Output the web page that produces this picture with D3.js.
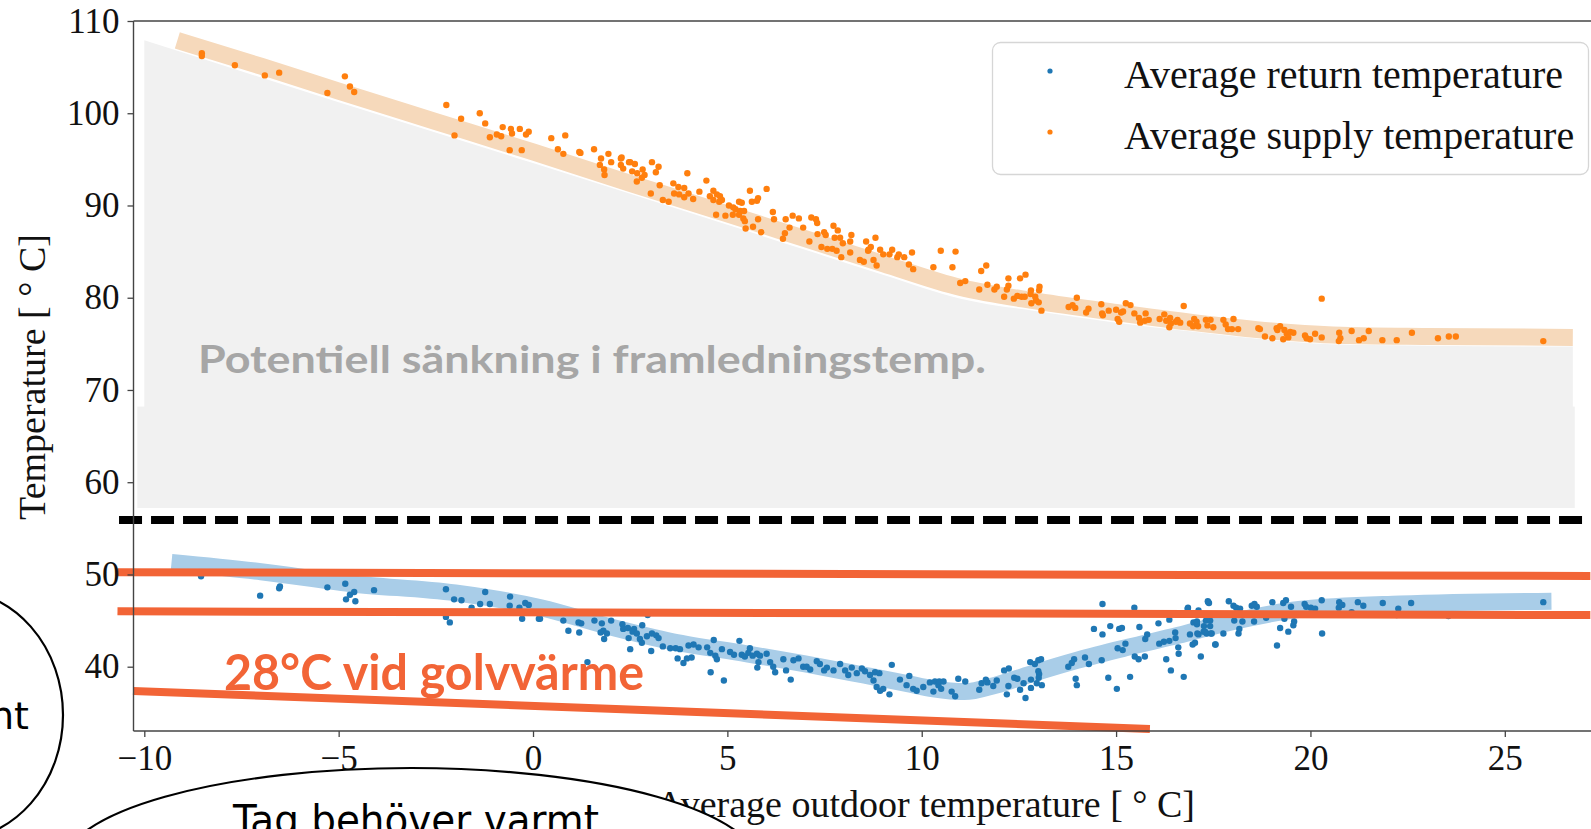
<!DOCTYPE html>
<html>
<head>
<meta charset="utf-8">
<script src="https://cdn.jsdelivr.net/npm/d3@7"></script>
<style>
  body { margin: 0; background: #fff; overflow: hidden; }
  svg { display: block; }
</style>
</head>
<body>
<script>
// x ticks and y ticks
const xTicks = [-10, -5, 0, 5, 10, 15, 20, 25];
const yTicks = [40, 50, 60, 70, 80, 90, 100, 110];

const legendLabels = ['Average return temperature', 'Average supply temperature'];

// fitted trend bands
const supplyFit = [[-9.15,107.9],[-7,105.1],[-5,102.4],[-2.5,99.1],[0,95.8],[2.5,92.4],[5,89.1],[7,86.4],[9,83.7],[11,81.1],[13,79.6],[15,78.4],[17,77.3],[19,76.4],[21,75.9],[23,75.8],[26.75,75.7]];
const returnFit = [[-9.3,51.3],[-7,50.3],[-4.7,49.0],[-2,48.0],[0.2,46.4],[2,44.3],[3.6,42.7],[5.5,41.4],[7,40.3],[8.5,39.1],[9.6,38.2],[10.3,37.6],[11.1,37.3],[11.9,38.0],[12.8,39.2],[14.0,40.7],[15.3,42.1],[16.6,43.4],[17.8,44.7],[19.7,46.2],[22.3,46.8],[26.2,47.1]];

// grey "potential" area, top edge and bottom
const greyTop = [[-10,107.9],[-5,101.2],[0,94.6],[5,87.9],[7,85.2],[9,82.5],[11,79.9],[13,78.5],[15,77.3],[17,76.3],[19,75.4],[21,74.9],[23,74.8],[26.75,74.7]];
const greyBottom = 57.2;
const greyStep = { x0: -10.18, x1: 26.8, y: 68.2 };

// dashed limit and the hand drawn orange lines
const dashedLimit = { x0: -10.65, x1: 27.0, y: 55.9 };
const orangeLines = [
  [[-10.69, 50.24], [27.2, 49.84]],
  [[-10.69, 46.0], [27.2, 45.6]],
  [[-10.29, 37.37], [15.87, 33.24]]
];

// scatter: average supply temperature
const supplyPts = [
[-8.52,106.5],[-8.52,106.2],[-7.67,105.2],[-6.90,104.1],[-6.53,104.4],[-5.29,102.2],[-4.84,104.0],[-4.71,102.9],[-4.60,102.3],
[-2.23,100.9],[-1.85,99.4],[-2.02,97.6],[-1.37,100.0],[-1.23,98.9],[-1.11,97.4],[-0.93,97.7],[-0.82,97.5],[-0.78,98.5],[-0.57,98.3],[-0.54,97.8],[-0.34,98.3],[-0.18,97.7],[-0.11,98.0],[-0.60,96.0],[-0.29,96.0],
[0.47,97.3],[0.83,97.6],[0.64,96.1],[0.78,95.6],[1.19,95.8],[1.22,95.7],[1.57,96.1],[1.75,95.1],[1.94,95.6],[1.72,94.4],[1.83,93.9],[1.84,93.3],[2.01,94.7],[2.26,95.1],[2.26,94.4],[2.32,94.0],[2.47,94.7],
[2.28,95.2],[2.50,94.7],[2.62,94.5],[2.55,93.7],[2.68,93.5],[2.82,93.9],[2.87,93.3],[2.80,93.0],[2.67,92.6],[3.06,94.7],[3.23,94.2],[3.16,93.6],[3.26,92.2],[3.03,91.3],[3.34,90.6],[3.49,90.4],[3.97,93.5],[3.61,92.4],[3.74,92.0],[3.89,91.9],[3.63,91.3],[3.76,91.2],[3.89,90.9],[4.0,91.3],[4.12,90.7],[4.28,91.5],[4.46,92.7],[4.64,91.6],[4.73,91.2],[4.55,91.0],[4.64,90.6],[4.81,91.0],[4.86,90.6],[4.79,90.4],[4.71,89.0],[4.95,88.9],[5.14,89.0],[5.04,90.0],[5.15,89.8],[5.21,89.6],[5.30,90.4],[5.37,90.3],[5.33,89.4],[5.43,89.4],[5.30,89.0],[5.41,88.6],[5.45,88.3],[5.58,91.6],[5.63,90.4],[5.76,90.5],[5.79,90.8],[6.01,91.8],[5.79,88.5],[5.66,87.7],[5.47,87.5],[5.87,87.1],[6.17,89.3],[6.20,88.5],[6.50,88.5],[6.68,88.9],[6.84,88.6],[6.60,87.6],[6.48,87.0],[6.43,86.4],[6.95,87.6],[7.16,88.7],[7.28,88.5],[7.31,88.1],[7.11,86.1],[7.42,85.5],[7.57,85.3],[7.70,85.3],[7.81,85.1],[7.93,84.4],[7.49,87.1],[7.53,86.8],[7.32,86.9],[7.73,87.8],[7.84,87.3],[7.76,86.5],[7.90,86.5],[7.97,85.9],[8.16,86.1],[8.19,86.8],[8.16,84.9],[8.57,86.1],[8.81,86.5],[8.63,85.2],[8.69,85.5],[8.62,85.1],[8.41,84.1],[8.51,83.9],[8.76,84.1],[8.84,83.5],[8.93,85.2],[9.01,84.7],[9.17,84.7],[9.24,85.2],[9.37,84.4],[9.41,84.7],[9.55,84.4],[9.75,84.9],[9.67,83.6],[9.78,83.1],[10.49,85.1],[10.87,85.0],[10.30,83.3],[10.79,83.3],
[11.12,81.8],[10.99,81.6],[11.53,82.9],[11.66,83.5],[11.69,81.4],[11.48,80.9],[11.87,80.9],[11.93,81.2],[12.12,80.1],[12.19,80.9],[12.23,81.3],[12.23,82.1],[12.53,82.1],[12.67,82.5],[12.37,79.9],[12.46,80.2],[12.57,80.1],[12.65,80.1],[12.81,80.8],[12.80,80.4],[12.92,80.1],[13.03,81.2],[13.02,80.8],[12.94,79.7],[13.01,79.5],[12.82,79.4],[13.08,78.6],[13.99,80.0],[13.78,79.0],[13.88,79.2],[13.95,78.9],[14.23,78.4],[14.29,78.8],[14.62,79.3],[14.64,78.3],[14.66,78.1],[14.81,78.6],[15.0,78.7],[15.13,78.4],[15.18,78.5],[15.25,79.4],[15.37,79.2],[15.04,77.7],[15.08,77.4],[15.47,78.3],[15.59,77.8],[15.76,78.3],[15.62,77.3],[15.74,77.5],[15.84,77.6],[16.74,79.1],[16.12,77.7],[16.24,78.2],[16.29,77.5],[16.39,77.8],[16.41,77.2],[16.54,77.4],[16.58,77.6],[16.65,77.3],[16.37,76.8],[16.90,77.2],[17.01,77.7],[17.07,77.4],[16.98,76.9],[17.11,76.9],[17.31,77.6],[17.43,77.6],[17.35,77.0],[17.50,76.8],[17.76,77.6],[17.82,77.1],[18.02,77.7],[17.88,76.6],[17.98,76.6],[18.14,76.6],[18.66,76.7],[19.13,76.7],
[20.29,79.9],[18.70,76.6],[18.83,75.8],[19.02,75.6],[19.15,76.5],[19.22,76.9],[19.33,76.5],[19.39,76.1],[19.48,76.3],[19.56,76.2],[19.43,75.7],[19.30,75.5],[19.86,75.9],[19.90,75.6],[19.99,75.5],[20.12,76.1],[20.29,75.7],[20.74,76.2],[20.77,75.6],[20.73,75.3],[21.06,76.4],[21.25,75.4],[21.37,75.6],[21.50,76.4],[21.85,75.4],[22.22,75.4],[22.61,76.2],[23.28,75.6],[23.56,75.8],[23.74,75.8],[25.99,75.3]
];

// scatter: average return temperature
const returnPts = [
[-8.54,49.8],[-8.54,50.2],[-7.02,47.7],[-6.53,48.5],[-6.51,48.7],[-5.29,48.6],[-4.83,49.0],[-4.81,47.3],[-4.71,47.8],[-4.60,48.1],[-4.57,47.1],[-4.09,48.3],
[-2.24,48.4],[-2.03,47.3],[-1.84,47.2],[-2.24,45.4],[-2.14,44.8],[-1.58,46.4],[-1.36,46.8],[-1.23,48.1],[-1.11,46.8],[-0.59,47.6],[-0.60,46.6],[-0.35,46.4],[-0.28,45.2],[-0.20,46.9],[-0.11,46.7],[0.15,45.2],
[0.18,45.2],[0.78,45.0],[0.91,43.9],[1.19,43.7],[1.17,44.8],[1.24,44.7],[1.58,45.0],[1.77,44.7],[2.01,45.0],[1.81,43.9],[1.74,43.7],[1.90,43.6],[1.83,43.0],
[2.30,44.6],[2.32,44.1],[2.44,44.2],[2.60,44.1],[2.56,43.8],[2.67,43.6],[2.46,43.1],[2.75,43.0],[2.80,42.6],[2.93,43.3],[3.06,43.6],[3.17,43.4],[3.23,43.1],[2.81,44.5],[2.95,45.6],
[2.50,41.9],[3.04,41.7],[1.40,40.5],[3.34,42.2],[3.53,42.0],[3.67,42.0],[3.78,41.9],[3.72,40.9],[3.87,40.4],[3.96,40.9],[4.08,41.0],[4.00,42.3],[4.13,42.4],[4.26,42.1],[4.48,42.1],[4.56,41.5],[4.65,42.9],[4.69,41.2],[4.73,40.8],[4.86,41.9],[4.91,38.5],[4.57,39.4],
[5.07,41.6],[5.17,41.3],[5.31,42.8],[5.37,41.3],[5.45,41.1],[5.54,41.5],[5.58,42.0],[5.65,41.2],[5.76,41.4],[5.84,41.2],[5.80,40.5],[5.77,39.9],[6.01,41.4],[6.10,40.5],[6.18,40.0],[6.23,39.4],[6.44,40.8],[6.51,39.6],[6.63,38.6],[6.70,40.7],[6.83,40.9],[6.95,40.0],[7.04,40.0],[7.13,39.7],[7.30,40.6],[7.38,40.3],[7.49,39.6],[7.56,39.9],[7.73,39.6],[7.90,40.3],[8.03,39.6],[8.11,39.1],[8.20,39.9],[8.33,39.3],[8.46,39.8],[8.54,39.5],[8.67,39.1],[8.80,39.4],[8.91,39.3],[8.76,38.5],[8.84,37.8],[8.93,37.4],[9.01,37.6],[9.17,37.0],[9.23,40.2],[9.44,38.6],[9.61,38.0],[9.68,39.0],[9.78,37.6],[9.87,37.4],[10.04,37.8],[10.21,38.3],[10.34,38.4],[10.43,38.0],
[10.30,37.3],[10.45,38.4],[10.56,38.4],[10.50,37.6],[10.77,37.3],[10.86,36.8],[10.94,38.7],[11.12,38.4],[11.48,37.5],[11.54,38.2],[11.65,38.6],[11.69,38.3],[11.84,37.9],[11.93,38.5],[12.12,39.6],[12.24,39.8],[12.19,37.0],[12.23,37.9],[12.38,38.8],[12.46,38.7],[12.53,37.5],[12.62,38.2],[12.67,36.6],[12.81,38.6],[12.81,37.7],[12.79,40.5],[12.91,40.3],[13.0,40.7],[13.07,40.8],[13.00,39.5],[13.02,39.2],[13.01,38.8],[13.09,38.0],[12.96,38.2],
[13.77,40.0],[13.86,40.4],[13.92,40.8],[13.96,38.7],[13.99,38.0],[14.20,41.0],[14.30,40.3],[14.43,44.1],[14.65,43.5],[14.63,40.7],[14.65,46.8],[14.85,44.4],[14.80,38.8],[15.02,37.6],[15.08,44.1],[15.15,44.2],[15.04,42.0],[15.17,41.8],[15.24,42.5],[15.36,38.9],[15.47,46.4],[15.48,41.1],[15.58,40.8],[15.60,44.3],[15.74,41.1],[15.75,43.0],[15.80,43.5],[16.09,44.7],[16.11,42.5],[16.23,42.7],[16.29,40.8],[16.37,42.8],[16.37,45.1],[16.41,39.6],[16.52,43.7],[16.53,43.1],[16.60,42.1],[16.61,41.4],[16.74,38.9],[16.85,46.4],[16.90,43.5],[16.97,42.4],[16.99,44.8],[17.03,42.6],[17.08,44.6],[17.12,43.5],[17.18,41.1],[17.25,43.8],[17.26,44.4],[17.31,45.0],[17.33,43.6],[17.37,47.0],[17.42,44.4],[17.44,43.6],[17.56,42.4],[17.76,43.6],
[16.84,46.3],[17.08,44.9],[17.09,43.6],[17.12,46.1],[17.29,43.8],[17.36,47.1],[17.39,46.9],[17.42,45.0],[17.46,43.6],[17.55,42.4],[17.90,47.1],[18.02,46.6],[18.04,45.0],[18.09,46.4],[18.19,46.3],[18.15,43.6],[18.17,44.1],[18.25,44.9],[18.49,46.6],[18.55,44.9],[18.56,46.8],[18.62,46.5],[18.86,45.3],[19.02,47.0],[19.14,42.3],[19.22,44.2],[19.30,46.9],[19.33,45.2],[19.37,47.2],[19.43,43.8],[19.50,46.5],[19.56,44.5],[19.58,44.9],[19.85,46.8],[19.89,46.5],[20.01,46.4],[20.12,46.3],[20.29,47.2],[20.30,43.6],[20.73,46.4],[20.74,47.0],[20.82,46.7],[21.06,45.9],[21.22,47.0],[21.36,46.6],[21.86,46.9],[22.26,46.3],[22.59,46.9],[22.22,45.6],[23.55,45.5],[25.99,47.0]
];

const W = 1591, H = 829;
const axisLeftX = 133.5, axisTopY = 21, axisBottomY = 731;
const serif = '"Liberation Serif", "DejaVu Serif", serif';
const blue = '#1f77b4', orange = '#ff7f0e', annot = '#f26436';

const xScale = d3.scaleLinear().domain([-10, 25]).range([144.3, 1504.8]);
const yScale = d3.scaleLinear().domain([40, 110]).range([666.7, 21]);

const svg = d3.select('body').append('svg')
    .attr('width', W)
    .attr('height', H);

// grey area
svg.append('rect')
    .attr('x', xScale(greyStep.x0))
    .attr('y', yScale(greyStep.y))
    .attr('width', xScale(greyStep.x1) - xScale(greyStep.x0))
    .attr('height', yScale(greyBottom) - yScale(greyStep.y))
    .attr('fill', '#f1f1f1');
svg.append('path')
    .datum(greyTop)
    .attr('d', d3.area()
        .x(d => xScale(d[0]))
        .y0(yScale(greyBottom))
        .y1(d => yScale(d[1]))
        .curve(d3.curveMonotoneX))
    .attr('fill', '#f1f1f1');

svg.append('text')
    .attr('x', 198).attr('y', 373)
    .attr('textLength', 788).attr('lengthAdjust', 'spacingAndGlyphs')
    .style('font-family', 'Lato, "Open Sans", sans-serif')
    .style('font-weight', '700')
    .style('font-size', '38px')
    .style('fill', '#a6a6a6')
    .text('Potentiell sänkning i framledningstemp.');

// trend bands
const bandLine = d3.line().x(d => xScale(d[0])).y(d => yScale(d[1])).curve(d3.curveMonotoneX);
svg.append('path').datum(supplyFit)
    .attr('d', bandLine).attr('fill', 'none')
    .attr('stroke', '#f6d9bb').attr('stroke-width', 17);
svg.append('path').datum(returnFit)
    .attr('d', bandLine).attr('fill', 'none')
    .attr('stroke', '#a9cde8').attr('stroke-width', 17);

// scatter
svg.append('g').selectAll('circle')
    .data(supplyPts).enter().append('circle')
    .attr('cx', d => xScale(d[0])).attr('cy', d => yScale(d[1]))
    .attr('r', 3.2).attr('fill', orange);
svg.append('g').selectAll('circle')
    .data(returnPts).enter().append('circle')
    .attr('cx', d => xScale(d[0])).attr('cy', d => yScale(d[1]))
    .attr('r', 3.2).attr('fill', blue);

// dashed line
svg.append('line')
    .attr('x1', xScale(dashedLimit.x0)).attr('x2', xScale(dashedLimit.x1))
    .attr('y1', yScale(dashedLimit.y)).attr('y2', yScale(dashedLimit.y))
    .attr('stroke', '#000').attr('stroke-width', 8)
    .attr('stroke-dasharray', '23,9');

// orange lines
svg.append('g').selectAll('line')
    .data(orangeLines).enter().append('line')
    .attr('x1', d => xScale(d[0][0])).attr('y1', d => yScale(d[0][1]))
    .attr('x2', d => xScale(d[1][0])).attr('y2', d => yScale(d[1][1]))
    .attr('stroke', annot).attr('stroke-width', 8);

svg.append('text')
    .attr('x', 224).attr('y', 690)
    .attr('textLength', 420).attr('lengthAdjust', 'spacingAndGlyphs')
    .style('font-family', 'Lato, "Open Sans", sans-serif')
    .style('font-weight', '700')
    .style('font-size', '50px')
    .style('fill', annot)
    .text('28°C vid golvvärme');

// spines
svg.append('line').attr('x1', axisLeftX).attr('x2', axisLeftX).attr('y1', axisTopY).attr('y2', axisBottomY)
    .attr('stroke', '#444').attr('stroke-width', 1.4);
svg.append('line').attr('x1', axisLeftX).attr('x2', W).attr('y1', axisTopY).attr('y2', axisTopY)
    .attr('stroke', '#444').attr('stroke-width', 1.4);
svg.append('line').attr('x1', axisLeftX).attr('x2', W).attr('y1', axisBottomY).attr('y2', axisBottomY)
    .attr('stroke', '#444').attr('stroke-width', 1.4);

// axes
const yAxis = svg.append('g')
    .attr('transform', `translate(${axisLeftX},0)`)
    .call(d3.axisLeft(yScale).tickValues(yTicks).tickSize(6).tickPadding(8));
const xAxis = svg.append('g')
    .attr('transform', `translate(0,${axisBottomY})`)
    .call(d3.axisBottom(xScale).tickValues(xTicks).tickSize(6).tickPadding(8)
        .tickFormat(d => String(d).replace('-', '\u2212')));
[yAxis, xAxis].forEach(g => {
    g.select('.domain').remove();
    g.selectAll('line').attr('stroke', '#444').attr('stroke-width', 1.3);
    g.selectAll('text')
        .style('font-family', serif)
        .style('font-size', '35px')
        .style('fill', '#111');
});

// axis labels
svg.append('text')
    .attr('transform', 'translate(45,377) rotate(-90)')
    .attr('text-anchor', 'middle')
    .style('font-family', serif).style('font-size', '38px').style('fill', '#111')
    .text('Temperature [ ° C]');
svg.append('text')
    .attr('x', 1195).attr('y', 817)
    .attr('text-anchor', 'end')
    .style('font-family', serif).style('font-size', '38px').style('fill', '#111')
    .text('Average outdoor temperature [ ° C]');

// legend
const legend = svg.append('g');
legend.append('rect')
    .attr('x', 992.5).attr('y', 42.5).attr('width', 596).attr('height', 132).attr('rx', 8)
    .attr('fill', 'white').attr('fill-opacity', 0.85)
    .attr('stroke', '#d6d6d6').attr('stroke-width', 1.3);
legend.selectAll('circle')
    .data(legendLabels).enter().append('circle')
    .attr('cx', 1050).attr('cy', (d, i) => 71 + i * 61)
    .attr('r', 2.6).attr('fill', (d, i) => i === 0 ? blue : orange);
legend.selectAll('text')
    .data(legendLabels).enter().append('text')
    .attr('x', 1124).attr('y', (d, i) => 88 + i * 61)
    .style('font-family', serif).style('font-size', '40px').style('fill', '#111')
    .text(d => d);

// slide bubbles on top
const hand = '"DejaVu Sans", sans-serif';
svg.append('ellipse')
    .attr('cx', -47).attr('cy', 715).attr('rx', 110).attr('ry', 125)
    .attr('fill', 'white').attr('stroke', '#000').attr('stroke-width', 2.2);
svg.append('text')
    .attr('x', 29).attr('y', 729).attr('text-anchor', 'end')
    .style('font-family', hand).style('font-size', '38px').style('fill', '#000')
    .text('nt');
svg.append('ellipse')
    .attr('cx', 411).attr('cy', 866).attr('rx', 348).attr('ry', 98)
    .attr('fill', 'white').attr('stroke', '#000').attr('stroke-width', 2.2);
svg.append('text')
    .attr('x', 233).attr('y', 834)
    .attr('textLength', 366).attr('lengthAdjust', 'spacingAndGlyphs')
    .style('font-family', hand).style('font-size', '40px').style('fill', '#000')
    .text('Tag behöver varmt');
</script>
</body>
</html>
